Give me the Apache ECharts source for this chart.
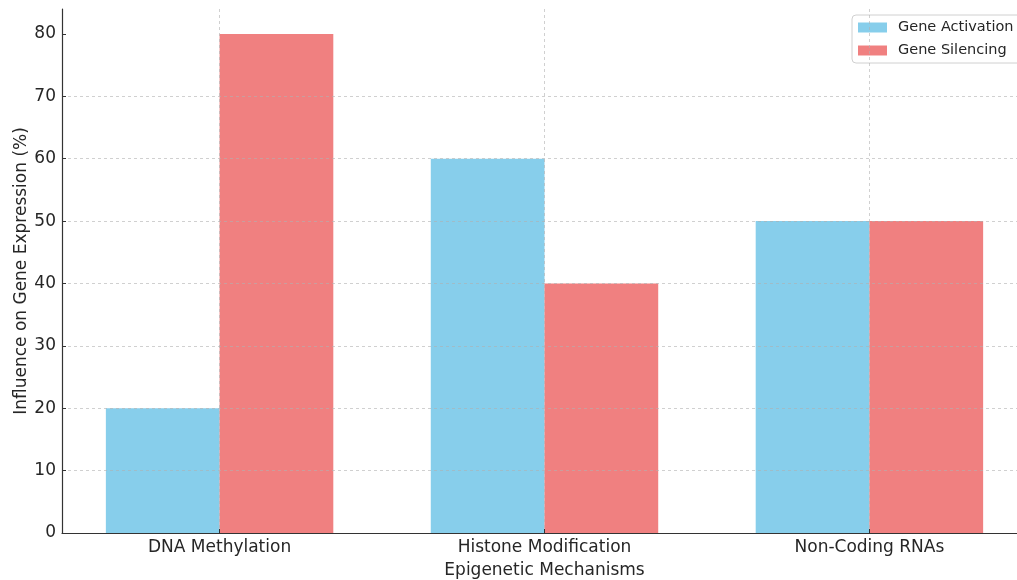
<!DOCTYPE html>
<html>
<head>
<meta charset="utf-8">
<script src="https://cdn.jsdelivr.net/npm/echarts@6/dist/echarts.min.js"></script>
<style>
  html, body { margin: 0; padding: 0; background: #fff; }
  #chart { width: 1017px; height: 580px; }
</style>
</head>
<body>
<div id="chart"></div>
<script>
// Epigenetic mechanisms and their influence on gene expression
const categories = ['DNA Methylation', 'Histone Modification', 'Non-Coding RNAs'];
const activation = [20, 60, 50];
const silencing = [80, 40, 50];
const yTicks = [0, 10, 20, 30, 40, 50, 60, 70, 80];

// Grouped bars: two bars of width 0.35 around each category position
const BAR_W = 0.35;
const X_MIN = -0.485, X_MAX = 2.485;
const GRID_LEFT = 62, GRID_WIDTH = 965;
const barPx = BAR_W * GRID_WIDTH / (X_MAX - X_MIN);

const textColor = '#262626';
const fontFamily = 'DejaVu Sans';
const gridLine = { show: true, lineStyle: { color: 'rgba(176,176,176,0.75)', type: [3, 3], width: 0.8 } };

const chart = echarts.init(document.getElementById('chart'), null, { renderer: 'canvas' });
chart.setOption({
  animation: false,
  textStyle: { fontFamily: fontFamily },
  grid: { left: GRID_LEFT, top: 9, width: GRID_WIDTH, bottom: 47, containLabel: false, outerBoundsMode: 'none' },
  legend: {
    orient: 'vertical',
    left: 852, top: 15,
    padding: [5, 10, 5, 6],
    itemWidth: 29, itemHeight: 10, itemGap: 8,
    backgroundColor: '#fff',
    borderColor: '#d0d0d0', borderWidth: 1, borderRadius: 4,
    icon: 'rect',
    textStyle: { fontSize: 14.5, color: textColor, fontFamily: fontFamily, lineHeight: 14, padding: [0, 0, 0, 6] },
    data: ['Gene Activation', 'Gene Silencing']
  },
  xAxis: {
    type: 'value',
    min: X_MIN, max: X_MAX,
    z: 10,
    name: 'Epigenetic Mechanisms',
    nameLocation: 'middle',
    nameGap: 29,
    nameTextStyle: { fontSize: 17, color: textColor, fontFamily: fontFamily },
    axisLine: { show: true, onZero: false, lineStyle: { color: '#333', width: 1.2 } },
    axisTick: { show: true, inside: true, length: 4, customValues: [0, 1, 2], lineStyle: { color: '#333' } },
    axisLabel: {
      customValues: [0, 1, 2],
      formatter: v => categories[Math.round(v)],
      fontSize: 17, color: textColor, margin: 6, fontFamily: fontFamily
    },
    splitLine: Object.assign({ customValues: [0, 1, 2] }, gridLine)
  },
  yAxis: {
    type: 'value',
    min: 0, max: 84,
    z: 10,
    name: 'Influence on Gene Expression (%)',
    nameLocation: 'middle',
    nameGap: 32,
    nameMoveOverlap: false,
    nameTextStyle: { fontSize: 17, color: textColor, fontFamily: fontFamily },
    axisLine: { show: true, onZero: false, lineStyle: { color: '#333', width: 1.2 } },
    axisTick: { show: true, inside: true, length: 4, customValues: yTicks, lineStyle: { color: '#333' } },
    axisLabel: { customValues: yTicks, fontSize: 17, color: textColor, margin: 6, fontFamily: fontFamily },
    splitLine: Object.assign({ customValues: yTicks, showMaxLine: false }, gridLine)
  },
  series: [
    {
      name: 'Gene Activation',
      type: 'bar',
      barWidth: barPx,
      barGap: '-100%',
      itemStyle: { color: '#87CEEB' },
      data: activation.map((v, i) => [i - BAR_W / 2, v])
    },
    {
      name: 'Gene Silencing',
      type: 'bar',
      barWidth: barPx,
      barGap: '-100%',
      itemStyle: { color: '#F08080' },
      data: silencing.map((v, i) => [i + BAR_W / 2, v])
    }
  ]
});
</script>
</body>
</html>
